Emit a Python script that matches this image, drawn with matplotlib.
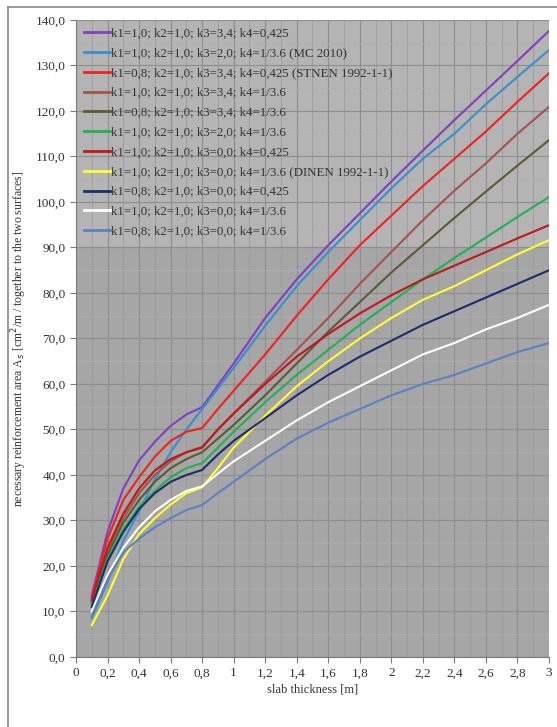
import numpy as np
import matplotlib
matplotlib.use("Agg")
import matplotlib.pyplot as plt
from matplotlib.lines import Line2D
from matplotlib.ticker import MultipleLocator, FuncFormatter

plt.rcParams['font.family'] = ['Liberation Serif', 'DejaVu Serif']

# slab thickness [m]
x = [0.1, 0.2, 0.3, 0.4, 0.5, 0.6, 0.7, 0.8, 0.9, 1.0,
     1.2, 1.4, 1.6, 1.8, 2.0, 2.2, 2.4, 2.6, 2.8, 3.0]

labels = [
    "k1=1,0; k2=1,0; k3=3,4; k4=0,425",
    "k1=1,0; k2=1,0; k3=2,0; k4=1/3.6 (MC 2010)",
    "k1=0,8; k2=1,0; k3=3,4; k4=0,425 (STNEN 1992-1-1)",
    "k1=1,0; k2=1,0; k3=3,4; k4=1/3.6",
    "k1=0,8; k2=1,0; k3=3,4; k4=1/3.6",
    "k1=1,0; k2=1,0; k3=2,0; k4=1/3.6",
    "k1=1,0; k2=1,0; k3=0,0; k4=0,425",
    "k1=1,0; k2=1,0; k3=0,0; k4=1/3.6 (DINEN 1992-1-1)",
    "k1=0,8; k2=1,0; k3=0,0; k4=0,425",
    "k1=1,0; k2=1,0; k3=0,0; k4=1/3.6",
    "k1=0,8; k2=1,0; k3=0,0; k4=1/3.6",
]
colors = ['#8040c0', '#3a8ed2', '#f22020', '#a5524c', '#5c5a30', '#22b052',
          '#c01818', '#ffff30', '#1e2c6c', '#ffffff', '#5c80c4']

# necessary reinforcement area [cm2/m]
purple = [13.5, 27.5, 37, 43.2, 47.3, 50.8, 53.3, 54.9, 59.7, 64.5,
          74.5, 83, 90.5, 97.5, 104.5, 111.3, 118, 124.5, 131, 137.6]
blue = [8.5, 16.5, 25.5, 32, 39, 45, 50, 54.5, 59, 63.5,
        72.8, 81.5, 89, 96, 103, 109.5, 115, 121.5, 127.5, 133.4]
red = [13, 26, 34.5, 39.5, 44, 47.5, 49.5, 50.3, 54.5, 58.5,
       66.5, 75, 83, 90.5, 97, 103.5, 109.5, 115.5, 122, 128.3]
brown = [12.5, 23.5, 30.5, 36, 40, 43, 45, 46.2, 50, 53.5,
         60.5, 67.5, 74.5, 82, 89, 96, 102.5, 108.5, 115, 120.9]
olive = [12, 22.5, 29.5, 34.5, 38.5, 41.5, 43.5, 45, 48, 51,
         57.5, 64.5, 71.5, 78, 84.5, 90.5, 96.5, 102.3, 108, 113.6]
green = [11.5, 21.5, 28, 33, 36.5, 39.5, 41.5, 42.6, 46, 49.5,
         56, 62, 67.5, 73, 78, 83, 87.7, 92.2, 96.7, 101.1]
darkred = [12.5, 24, 31.5, 37, 41, 43.5, 45, 46, 50, 53.5,
           60, 66, 71, 75.5, 79.5, 83, 86, 89, 92, 94.9]
yellow = [7, 13.5, 21.5, 27, 30.5, 33.5, 36, 37.3, 41.5, 46,
          53, 59.5, 65, 70, 74.5, 78.5, 81.5, 85, 88.5, 91.6]
navy = [11, 21, 27.5, 32.5, 36, 38.5, 40, 41.1, 44.5, 47.5,
        52.5, 57.5, 62, 66, 69.5, 73, 76, 79, 82, 85]
white = [10, 18, 24, 28.5, 32, 34.5, 36.5, 37.5, 40.3, 43,
         47.5, 52, 56, 59.5, 63, 66.5, 69, 72, 74.5, 77.4]
lightblue = [9, 17, 23, 26, 28.5, 30.5, 32.3, 33.4, 36, 38.5,
             43.5, 48, 51.5, 54.5, 57.5, 60, 62, 64.5, 67, 69]

series = [purple, blue, red, brown, olive, green, darkred, yellow, navy, white, lightblue]

fig = plt.figure(figsize=(5.57, 7.27), dpi=100)
ax = fig.add_axes([0.1364, 0.0963, 0.8492, 0.8762])
ax.set_facecolor('#a6a6a6')
# lighter band behind the legend (as in the scanned original)
ax.axhspan(90, 140, color='#b4b4b4', lw=0, zorder=0.3)

for ys, c, lab in zip(series, colors, labels):
    ax.plot(x, ys, color=c, lw=1.5, label=lab, zorder=3)

ax.set_xlim(0, 3)
ax.set_ylim(0, 140)
ax.xaxis.set_major_locator(MultipleLocator(0.2))
ax.xaxis.set_minor_locator(MultipleLocator(0.1))
ax.yaxis.set_major_locator(MultipleLocator(10))
ax.yaxis.set_minor_locator(MultipleLocator(5))
ax.xaxis.set_major_formatter(FuncFormatter(lambda v, p: ('%g' % round(v, 1)).replace('.', ',')))
ax.yaxis.set_major_formatter(FuncFormatter(lambda v, p: ('%.1f' % v).replace('.', ',')))
ax.grid(which='major', color='#8e8e8e', lw=0.8)
ax.grid(which='minor', axis='x', color='#9b9b9b', lw=0.6)
ax.grid(which='minor', axis='y', color='#b0b0b0', lw=0.5)
ax.set_axisbelow(True)

for s in ['top', 'right']:
    ax.spines[s].set_visible(False)
for s in ['left', 'bottom']:
    ax.spines[s].set_color('#7a7a7a')
ax.tick_params(which='major', length=4, color='#7a7a7a', labelsize=9.5, labelcolor='#333333')
ax.tick_params(which='minor', length=0)

ax.set_xlabel("slab thickness [m]", fontsize=9, color='#333333', labelpad=3)
ax.set_ylabel("necessary reinforcement area A$_s$ [cm$^2$/m / together to the two surfaces]",
              fontsize=8.5, color='#333333', labelpad=5)

leg = ax.legend(loc='upper left', fontsize=9.3, frameon=False,
                handlelength=2.0, handletextpad=0.1, labelspacing=0.6,
                borderaxespad=0.0, borderpad=0.6)
for t in leg.get_texts():
    t.set_color('#333333')
for h in leg.get_lines():
    h.set_linewidth(2)

# scan frame
fig.add_artist(Line2D([0.014, 1.0], [0.990, 0.990], color='#8a8a8a', lw=1.2))
fig.add_artist(Line2D([0.014, 0.014], [0.0, 0.990], color='#8a8a8a', lw=1.2))

fig.savefig("out.png", dpi=100)
